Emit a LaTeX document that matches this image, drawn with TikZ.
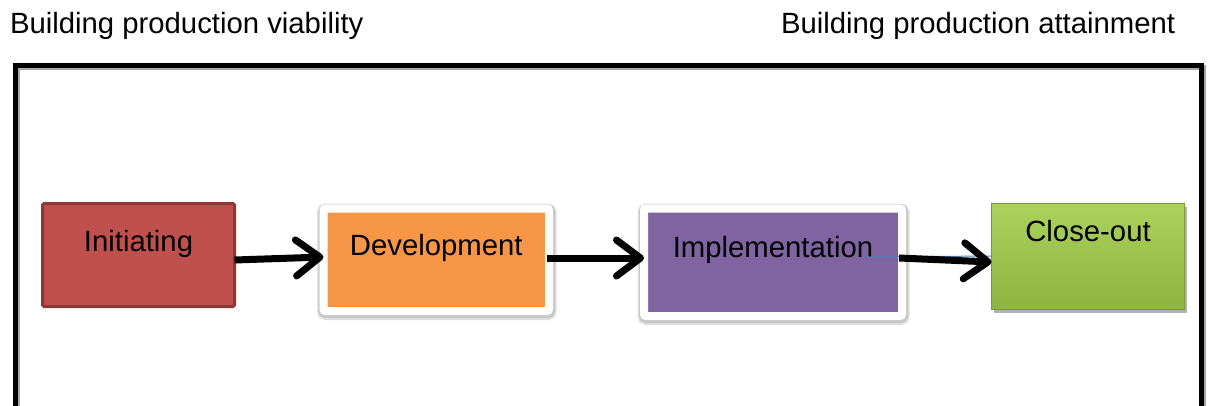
\documentclass[tikz,border=0pt]{standalone}
\usepackage{fontspec}
\setmainfont{Liberation Sans}
\usetikzlibrary{arrows.meta,shadows,calc}
\definecolor{cinit}{HTML}{C0504D}
\definecolor{cinitb}{HTML}{8C3836}
\definecolor{cdev}{HTML}{F79646}
\definecolor{cimpl}{HTML}{8064A2}
\definecolor{cgreentop}{HTML}{ABD25D}
\definecolor{cgreenbot}{HTML}{8DB43F}
\definecolor{cgreenb}{HTML}{7A9A3A}
\definecolor{cblue}{HTML}{4F81BD}
\tikzset{
  txt/.style={font=\fontsize{29.3}{33}\selectfont, text height=20.5pt, inner sep=0pt, outer sep=0pt},
  phase/.style={txt, rectangle, align=center},
  framed/.style={phase, draw=white, line width=8pt, rounded corners=2pt,
     preaction={draw=black!12, line width=14pt, rounded corners=4pt, transform canvas={xshift=0.5pt, yshift=-2pt}},
     preaction={draw=black!22, line width=11pt, rounded corners=3pt, transform canvas={xshift=0.5pt, yshift=-1.5pt}}},
  flow/.style={line width=7pt, -{Straight Barb[length=24pt, width=36pt, line cap=round, line join=round]}},
}
\begin{document}
\begin{tikzpicture}[x=1pt, y=-1pt]
\useasboundingbox (0,0) rectangle (1208,405);
\fill[white] (0,0) rectangle (1208,405);
% titles
\node[txt, anchor=base west] (tl) at (10,33.3) {Building production viability};
\node[txt, anchor=base west] (tr) at (781,33.3) {Building production attainment};
% outer frame
\begin{scope}
\clip (0,0) rectangle (1208,405);
\draw[gray!70, line width=5pt] (17.5,420) -- (17.5,67.5) -- (1203.5,67.5) -- (1203.5,420);
\draw[black, line width=5pt, line join=miter] (15.5,420) -- (15.5,65.5) -- (1201.5,65.5) -- (1201.5,420);
\end{scope}
% phases
\node[phase, fill=cinit, draw=cinitb, line width=3pt, minimum width=192pt, minimum height=103pt,
      text depth=28pt, rounded corners=1.5pt] (init) at (138.5,255) {Initiating};
\node[framed, fill=cdev, minimum width=225.5pt, minimum height=102.5pt, text depth=30pt] (dev) at (436.25,259.75) {Development};
\node[framed, fill=cimpl, minimum width=258pt, minimum height=107.5pt, text depth=29.6pt] (impl) at (773,262.25) {Implementation};
\node[phase, top color=cgreentop, bottom color=cgreenbot, draw=cgreenb, line width=1pt,
      minimum width=193pt, minimum height=106pt, text depth=51pt,
      preaction={fill=black!30, transform canvas={xshift=2pt, yshift=-3pt}}] (close) at (1088,256.5) {Close-out};
% connectors
\draw[cblue, line width=1pt] ($(impl.east)+(-36,-5.25)$) -- ($(close.west)+(0,-0.5)$);
\draw[flow] ($(init.east)+(0,5)$) -- ($(dev.west)+(0,-2.75)$);
\draw[flow] ($(dev.east)+(-2,-1.75)$) -- ($(impl.west)+(0,-4.25)$);
\draw[flow] ($(impl.east)+(-3,-4.25)$) -- ($(close.west)+(0,5.5)$);
\end{tikzpicture}
\end{document}
